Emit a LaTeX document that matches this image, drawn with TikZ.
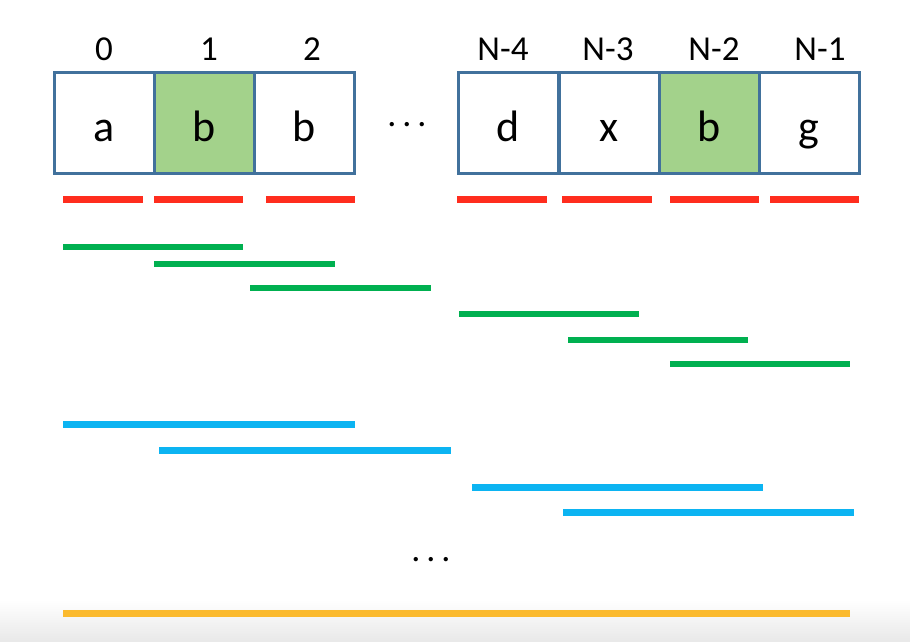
\documentclass[tikz,border=0pt]{standalone}
\usepackage{fontspec}
\setmainfont{Carlito}
\definecolor{cellline}{HTML}{41719C}
\definecolor{cellhit}{HTML}{A3D28B}
\definecolor{cRed}{HTML}{FF2D1E}
\definecolor{cGreen}{HTML}{00B050}
\definecolor{cBlue}{HTML}{0CB4F2}
\definecolor{cGold}{HTML}{FBBA2E}
\newcommand{\gapdots}{\makebox[15pt]{.}\makebox[15pt]{.}\makebox[15pt]{.}}
\tikzset{
  cell/.style={draw=cellline,line width=3pt,minimum width=100pt,minimum height=101pt,
    inner sep=0pt,text height=36pt,text depth=0pt,font=\fontsize{44}{48}\selectfont},
  hit/.style={cell,fill=cellhit},
  idx/.style={anchor=base,inner sep=0pt,font=\fontsize{35}{40}\selectfont},
  gap/.style={anchor=base,inner sep=0pt,font=\fontsize{36}{40}\selectfont},
  bar/.style={line width=7pt},
  thinbar/.style={line width=6pt}
}

\begin{document}
\begin{tikzpicture}[x=1pt,y=-1pt]
\useasboundingbox (0,0) rectangle (910,642);
\shade[top color=white,bottom color=black!9] (0,600) rectangle (910,642);
% the string
\node[cell] (s0) at (104,123) {a};
\node[hit]  (s1) at (204,123) {b};
\node[cell] (s2) at (304.5,123) {b};
\node[gap]  (dots) at (407,126) {\gapdots};
\node[cell] (sN4) at (508.5,123) {d};
\node[cell] (sN3) at (609,123) {x};
\node[hit]  (sN2) at (709,123) {b};
\node[cell] (sN1) at (809,123) {g};
%
\node[idx] (i0) at (104,61) {0};
\node[idx] (i1) at (209,61) {1};
\node[idx] (i2) at (312,61) {2};
\node[idx] (iN4) at (503,61) {N-4};
\node[idx] (iN3) at (608,61) {N-3};
\node[idx] (iN2) at (714,61) {N-2};
\node[idx] (iN1) at (820,61) {N-1};
% length 1
\draw[bar,cRed] (63,199) -- (143,199) (154,199) -- (243,199) (266,199) -- (355,199);
\draw[bar,cRed] (457,199) -- (547,199) (562,199) -- (652,199) (670,199) -- (759,199) (770,199) -- (859,199);
% length 2
\draw[thinbar,cGreen] (63,247) -- (243,247) (154,264) -- (335,264) (250,288) -- (431,288);
\draw[thinbar,cGreen] (459,314) -- (639,314) (568,340) -- (748,340) (670,364) -- (850,364);
% length 3
\draw[bar,cBlue] (63,424) -- (355,424) (159,450) -- (451,450);
\draw[bar,cBlue] (472,487) -- (763,487) (563,512) -- (854,512);
\node[gap] (more) at (431,561) {\gapdots};
% length N
\draw[bar,cGold] (63,613) -- (850,613);
\end{tikzpicture}
\end{document}
